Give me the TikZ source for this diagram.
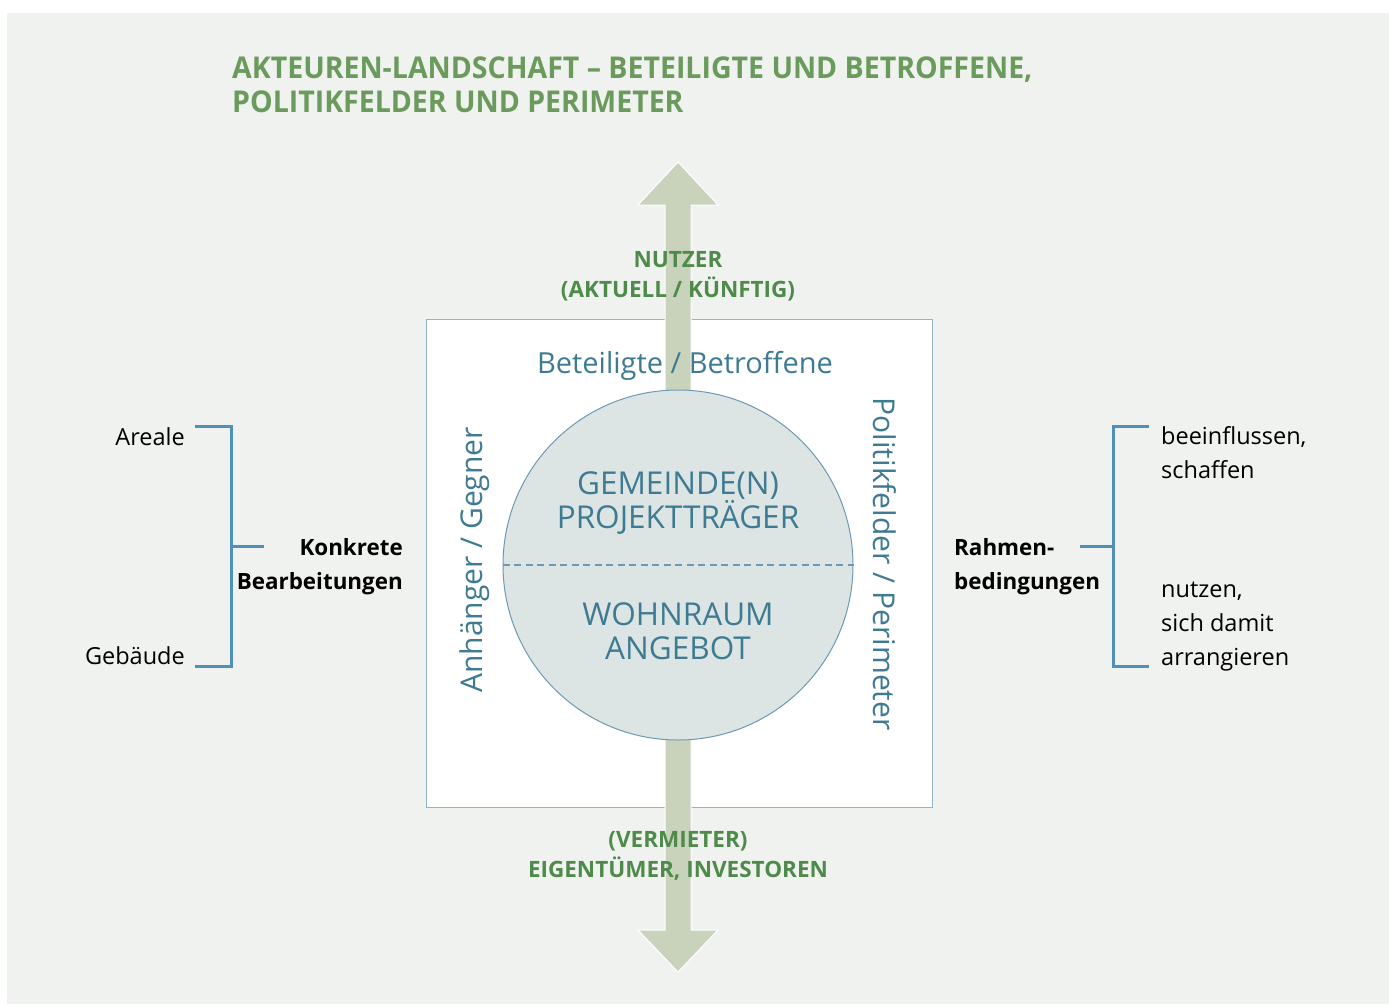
\documentclass[tikz,border=0pt]{standalone}
\usepackage{fontspec}
\setmainfont{Open Sans}
\newfontfamily\titlefont[FakeStretch=0.95]{Open Sans}
\definecolor{bgc}{HTML}{F0F2EF}
\definecolor{titlegreen}{HTML}{6A9A5C}
\definecolor{labgreen}{HTML}{4E8A4A}
\definecolor{arrowc}{HTML}{C9D3BC}
\definecolor{bluetext}{HTML}{3E7B92}
\definecolor{circfill}{HTML}{DCE5E3}
\definecolor{circline}{HTML}{6B9AB5}
\definecolor{boxline}{HTML}{8FB5D0}
\definecolor{brack}{HTML}{4F90B8}
\begin{document}
\begin{tikzpicture}[x=1pt,y=-1pt,
  titletext/.style={text=titlegreen,font=\titlefont\bfseries\fontsize{30}{34}\selectfont,align=left,inner sep=0pt},
  greenlab/.style={text=labgreen,font=\bfseries\fontsize{22.5}{30}\selectfont,align=center,inner sep=0pt},
  bluelab/.style={text=bluetext,font=\fontsize{29}{34}\selectfont,align=center,inner sep=0pt},
  sidelab/.style={text=bluetext,font=\fontsize{30}{34}\selectfont,align=center,inner sep=0pt},
  circlab/.style={text=bluetext,font=\fontsize{31.5}{34}\selectfont,align=center,inner sep=0pt},
  blacklab/.style={text=black,font=\fontsize{23.5}{34}\selectfont,inner sep=0pt},
  boldlab/.style={text=black,font=\bfseries\fontsize{22.4}{34}\selectfont,inner sep=0pt},
  bracket/.style={draw=brack,line width=3pt},
  bigarrow/.style={fill=arrowc,draw=white,line width=1pt}
]
\useasboundingbox (0,0) rectangle (1389,1004);
\fill[white] (0,0) rectangle (1389,1004);
\fill[bgc] (7,13) rectangle (1389,1004);

% title
\node[titletext,anchor=base west] (title) at (232,112) {AKTEUREN-LANDSCHAFT – BETEILIGTE UND BETROFFENE,\\POLITIKFELDER UND PERIMETER};

% box
\node[draw=boxline,fill=white,line width=1pt,minimum width=506pt,minimum height=488pt,inner sep=0pt] (box) at (679,563) {};

% double arrow
\draw[bigarrow] (678,162) -- (718,205) -- (691,205) -- (691,930) -- (718,930) -- (678,972) -- (638,930) -- (665,930) -- (665,205) -- (638,205) -- cycle;

% circle
\node[circle,draw=circline,fill=circfill,line width=1pt,minimum size=350pt,inner sep=0pt] (core) at (678,565) {};
\draw[draw=circline,line width=2pt,dash pattern=on 7pt off 4.5pt] (core.west) -- (core.east);

\node[circlab] (gem) at (678,503) {GEMEINDE(N)\\PROJEKTTRÄGER};
\node[circlab] (wohn) at (678,631) {WOHNRAUM\\ANGEBOT};

\node[bluelab] (bet) at (685,366) {Beteiligte / Betroffene};
\node[sidelab,rotate=90] (anh) at (475,560) {Anhänger / Gegner};
\node[sidelab,rotate=-90] (pol) at (885,564) {Politikfelder / Perimeter};

\node[greenlab] (nutzer) at (678,276) {NUTZER\\(AKTUELL / KÜNFTIG)};
\node[greenlab] (verm) at (678,856) {(VERMIETER)\\EIGENTÜMER, INVESTOREN};

% left bracket
\coordinate (lt) at (195,426);
\coordinate (lb) at (195,666);
\coordinate (lm) at (264,546);
\draw[bracket] (lt) -- (231,426) -- (231,666) -- (lb);
\draw[bracket] (231,546) -- (lm);
\node[blacklab,anchor=east] (areale) at (185,437) {Areale};
\node[blacklab,anchor=east] (geb) at (185,656) {Gebäude};
\node[boldlab,anchor=east,align=right] (konk) at (403,567) {Konkrete\\Bearbeitungen};

% right bracket
\coordinate (rt) at (1149,426);
\coordinate (rb) at (1149,666);
\coordinate (rm) at (1080,546);
\draw[bracket] (rt) -- (1113,426) -- (1113,666) -- (rb);
\draw[bracket] (1113,546) -- (rm);
\node[boldlab,anchor=west,align=left] (rahmen) at (954,567) {Rahmen-\\bedingungen};
\node[blacklab,anchor=west,align=left] (beein) at (1161,453) {beeinflussen,\\schaffen};
\node[blacklab,anchor=west,align=left] (nutzen) at (1161,627) {nutzen,\\sich damit\\arrangieren};
\end{tikzpicture}
\end{document}
